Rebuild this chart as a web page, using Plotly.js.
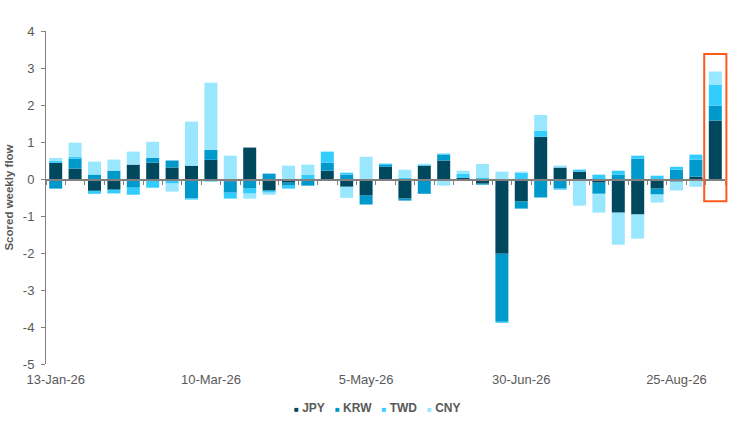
<!DOCTYPE html>
<html>
<head>
<meta charset="utf-8">
<script src="https://cdn.plot.ly/plotly-3.0.1.min.js"></script>
<style>
  html, body { margin: 0; padding: 0; background: #fff; }
  #chart { width: 749px; height: 428px; }
</style>
</head>
<body>
<div id="chart"></div>
<script>
// Weekly dates (one bar per week)
const weeks = [
  '2026-01-13', '2026-01-20', '2026-01-27', '2026-02-03', '2026-02-10', '2026-02-17', '2026-02-24',
  '2026-03-03', '2026-03-10', '2026-03-17', '2026-03-24', '2026-03-31', '2026-04-07', '2026-04-14',
  '2026-04-21', '2026-04-28', '2026-05-05', '2026-05-12', '2026-05-19', '2026-05-26', '2026-06-02',
  '2026-06-09', '2026-06-16', '2026-06-23', '2026-06-30', '2026-07-07', '2026-07-14', '2026-07-21',
  '2026-07-28', '2026-08-04', '2026-08-11', '2026-08-18', '2026-08-25', '2026-09-01', '2026-09-08'
];

// Scored weekly flow per currency
const jpy = [0.44, 0.28, -0.32, -0.29, 0.39, 0.44, 0.31, 0.36, 0.52, -0.07, 0.85, -0.315, -0.10, -0.045,
  0.225, -0.21, -0.45, 0.33, -0.53, 0.36, 0.50, 0.036, -0.126, -2.02, -0.61, 1.14, 0.31, 0.20,
  -0.10, -0.91, -0.96, -0.26, -0.07, 0.063, 1.58];
const krw = [-0.26, 0.27, 0.12, 0.225, -0.235, 0.135, 0.19, -0.52, 0.27, -0.30, -0.26, 0.145, -0.08, -0.135,
  0.215, 0.117, -0.24, 0.05, -0.054, -0.40, 0.16, -0.045, -0.027, -1.84, -0.19, -0.50, -0.26, 0,
  -0.30, 0.117, 0.55, -0.16, 0.25, 0.46, 0.405];
const twd = [0.05, 0.05, -0.08, -0.10, -0.19, -0.235, -0.125, -0.035, -0.07, -0.16, -0.135, -0.055, -0.08, 0.12,
  0.30, 0.054, 0, 0.03, 0.036, 0.027, 0.027, 0.108, 0.027, -0.027, 0.17, 0.16, -0.027, 0.054,
  0.117, 0.108, 0.08, 0.09, 0.08, 0.135, 0.57];
const cny = [0.08, 0.38, 0.35, 0.30, 0.35, 0.43, -0.215, 1.19, 1.81, 0.63, -0.135, -0.055, 0.36, 0.27,
  -0.045, -0.30, 0.60, 0.02, 0.216, 0.027, -0.18, 0.08, 0.38, 0.20, 0.03, 0.43, 0.054, -0.72,
  -0.51, -0.865, -0.65, -0.216, -0.24, -0.21, 0.35];

const tickDates = ['2026-01-13', '2026-03-10', '2026-05-05', '2026-06-30', '2026-08-25'];
const tickLabels = ['13-Jan-26', '10-Mar-26', '5-May-26', '30-Jun-26', '25-Aug-26'];
const yTickVals = [-5, -4, -3, -2, -1, 0, 1, 2, 3, 4];
const yTickLabels = ['-5', '-4', '-3', '-2', '-1', '0', '1', '2', '3', '4'];

const seriesNames = ['JPY', 'KRW', 'TWD', 'CNY'];
const seriesValues = [jpy, krw, twd, cny];
const colors = ['#00485E', '#0099CC', '#33CCFF', '#99E6FF'];

const DAY = 86400000;
const tStart = Date.parse(weeks[0]) - 3.5 * DAY;
const tEnd = Date.parse(weeks[weeks.length - 1]) + 3.5 * DAY;
const xStart = new Date(tStart).toISOString();
const xEnd = new Date(tEnd).toISOString();
const yRange = [-5, 4];

const font = '"Liberation Sans", Arial, sans-serif';
const grey = '#595959';
const axisGrey = '#808080';

// Bars
const traces = seriesNames.map((name, i) => ({
  type: 'bar',
  name,
  x: weeks,
  y: seriesValues[i],
  marker: { color: colors[i] },
  hoverinfo: 'x+y+name'
}));

// dummy trace so the zero-line axis gets drawn
traces.push({ type: 'scatter', x: [null], y: [null], xaxis: 'x2', hoverinfo: 'skip', showlegend: false });

// Compact key: small coloured square + name, like the Excel legend
const gap = '\u00A0\u00A0\u00A0';
const legendText = '<b>' + seriesNames.map((name, i) =>
  `<span style="color:${colors[i]};font-size:8px">■</span> ${name}`
).join(gap) + '</b>';

// Highlight box round the last week (paper coords so it is not clipped)
const xFrac = t => (t - tStart) / (tEnd - tStart);
const yFrac = v => (v - yRange[0]) / (yRange[1] - yRange[0]);
const lastWeek = Date.parse(weeks[weeks.length - 1]);
const highlight = {
  type: 'rect',
  xref: 'paper', yref: 'paper',
  x0: xFrac(lastWeek - 4 * DAY),
  x1: xFrac(lastWeek + 4 * DAY),
  y0: yFrac(-0.6), y1: yFrac(3.38),
  line: { color: '#FF5A1E', width: 2 },
  fillcolor: 'rgba(0,0,0,0)'
};

const layout = {
  width: 749,
  height: 428,
  margin: { l: 46, r: 24, t: 31, b: 64 },
  paper_bgcolor: '#fff',
  plot_bgcolor: '#fff',
  font: { family: font, color: grey, size: 13 },
  barmode: 'relative',
  bargap: 0.33,
  showlegend: false,
  xaxis: {
    type: 'date',
    range: [xStart, xEnd],
    tickmode: 'array',
    tickvals: tickDates,
    ticktext: tickLabels,
    ticks: '',
    ticklabelstandoff: 6,
    showline: false,
    showgrid: false,
    zeroline: false,
    tickfont: { family: font, size: 13, color: grey },
    fixedrange: true
  },
  // axis line through zero with a tick between every week
  xaxis2: {
    type: 'date',
    overlaying: 'x',
    anchor: 'free',
    position: yFrac(0),
    range: [xStart, xEnd],
    tickmode: 'linear',
    tick0: xStart,
    dtick: 7 * DAY,
    ticks: 'outside',
    ticklen: 4,
    tickwidth: 1,
    tickcolor: axisGrey,
    showticklabels: false,
    showline: true,
    linecolor: axisGrey,
    linewidth: 1.5,
    showgrid: false,
    zeroline: false,
    fixedrange: true
  },
  yaxis: {
    range: yRange,
    tickmode: 'array',
    tickvals: yTickVals,
    ticktext: yTickLabels,
    ticks: 'outside',
    ticklen: 4,
    tickcolor: axisGrey,
    showline: true,
    linecolor: axisGrey,
    linewidth: 1,
    showgrid: false,
    zeroline: false,
    ticklabelstandoff: 4,
    tickfont: { family: font, size: 13, color: grey },
    title: { text: '<b>Scored weekly flow</b>', font: { family: font, size: 11.5, color: grey }, standoff: 6 },
    fixedrange: true
  },
  annotations: [{
    xref: 'paper', yref: 'paper',
    x: 0.488, y: yFrac(-6.2),
    xanchor: 'center', yanchor: 'middle',
    showarrow: false,
    text: legendText,
    font: { family: font, size: 12, color: grey }
  }],
  shapes: [highlight]
};

Plotly.newPlot('chart', traces, layout, { displayModeBar: false, staticPlot: true });
</script>
</body>
</html>
